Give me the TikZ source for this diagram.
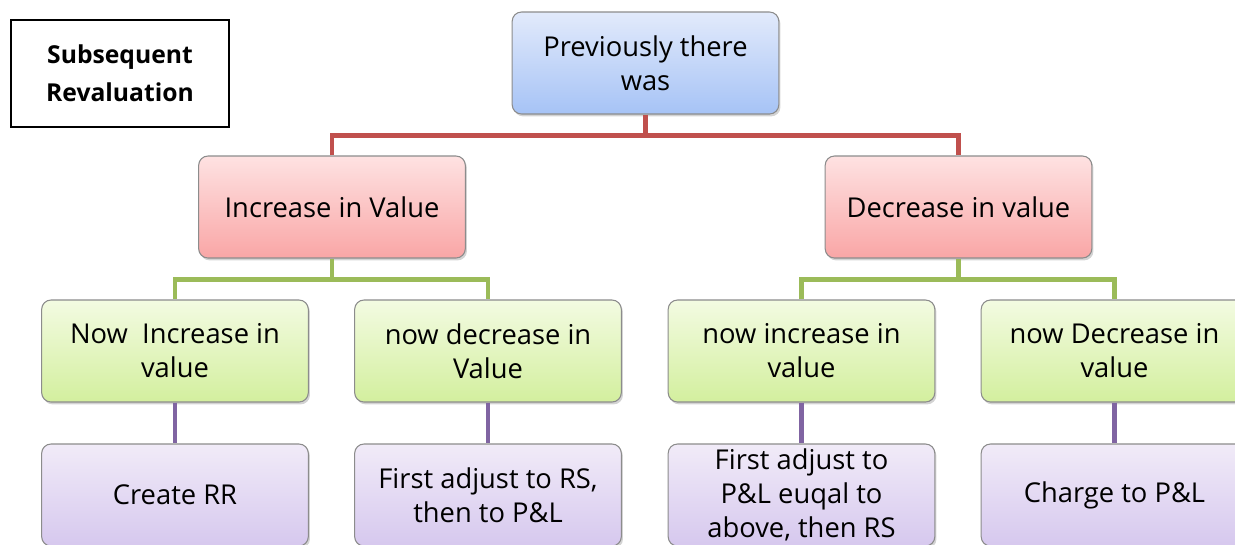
\documentclass[tikz,border=0pt]{standalone}
\usepackage{fontspec}
\setmainfont{Open Sans}
\usetikzlibrary{shadows}
\definecolor{redln}{HTML}{C0504D}
\definecolor{greenln}{HTML}{9BBB59}
\definecolor{purpleln}{HTML}{8064A2}
\definecolor{bluetop}{HTML}{E2EAFB}
\definecolor{bluebot}{HTML}{A6C3F6}
\definecolor{redtop}{HTML}{FEE2E2}
\definecolor{redbot}{HTML}{F9A6A6}
\definecolor{greentop}{HTML}{F3FBE2}
\definecolor{greenbot}{HTML}{D3EF9E}
\definecolor{purpletop}{HTML}{F1EBF8}
\definecolor{purplebot}{HTML}{D6C8EE}
\tikzset{
	box/.style 2 args={rounded corners=7pt,draw=black!45,line width=0.8pt,top color=#1,bottom color=#2,
		drop shadow={opacity=0.35,shadow xshift=1.2pt,shadow yshift=-1.8pt},
		minimum width=200pt,minimum height=76.5pt,inner sep=0pt,align=center,
		font=\fontsize{20.5}{25.5}\selectfont},
	bbox/.style={box={bluetop}{bluebot}},
	rbox/.style={box={redtop}{redbot}},
	gbox/.style={box={greentop}{greenbot}},
	pbox/.style={box={purpletop}{purplebot}},
	conn/.style={line width=3.2pt,draw=#1}
}
\begin{document}
\begin{tikzpicture}[x=0.75pt,y=-0.75pt]
						\clip (0,0) rectangle (1235,544);
						\node [draw,line width=1.2pt,minimum width=163.5pt,minimum height=80.25pt,align=center,
							font=\bfseries\fontsize{18.5}{28.5}\selectfont] (title) at (120,73.5) {Subsequent\\Revaluation};

						\node [bbox] (prev) at (645.5,63) {Previously there\\was};
						\node [rbox] (inc) at (332,207) {Increase in Value};
						\node [rbox] (dec) at (958.5,207) {Decrease in value};

						\node [gbox] (nowinc) at (175,351) {Now\ \ Increase in\\value};
						\node [gbox] (nowdec) at (488,351) {now decrease in\\Value};
						\node [gbox] (decinc) at (801.5,351) {now increase in\\value};
						\node [gbox] (decdec) at (1114.5,351) {now Decrease in\\value};

						\node [pbox] (rr) at (175,495) {Create RR};
						\node [pbox] (adjrs) at (488,495) {First adjust to RS,\\then to P\&L};
						\node [pbox] (adjpl) at (801.5,495) {First adjust to\\P\&L euqal to\\above, then RS};
						\node [pbox] (charge) at (1114.5,495) {Charge to P\&L};

						\draw [conn=redln] (prev.south) -- ++(0,21) coordinate (rj);
						\draw [conn=redln] (inc.north) |- (rj) -| (dec.north);
						\draw [conn=greenln] (inc.south) -- ++(0,21) coordinate (gl);
						\draw [conn=greenln] (nowinc.north) |- (gl) -| (nowdec.north);
						\draw [conn=greenln] (dec.south) -- ++(0,21) coordinate (gr);
						\draw [conn=greenln] (decinc.north) |- (gr) -| (decdec.north);
						\draw [conn=purpleln] (nowinc) -- (rr);
						\draw [conn=purpleln] (nowdec) -- (adjrs);
						\draw [conn=purpleln] (decinc) -- (adjpl);
						\draw [conn=purpleln] (decdec) -- (charge);
					\end{tikzpicture}
\end{document}
